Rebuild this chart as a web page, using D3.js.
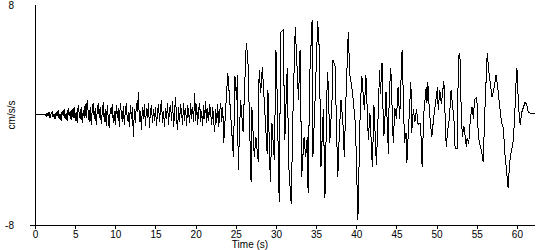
<!DOCTYPE html>
<html><head><meta charset="utf-8">
<script src="https://cdn.jsdelivr.net/npm/d3@7"></script>
<style>body{margin:0;background:#fff}svg{display:block}text{font-family:"Liberation Sans",Arial,sans-serif}</style>
</head><body><svg id="c" width="550" height="250"></svg>
<script>
// Early low-amplitude noise, sampled every 0.125 s starting at 1.25 s
const earlyStart = 1.25, earlyStep = 0.125;
const earlyValues = [
 0.05,-0.1,0.15,-0.05,0.2,-0.2,0.1,0.25,-0.15,0.1,
 -0.3,0.2,-0.1,0.35,-0.25,0.1,-0.4,0.3,-0.05,0.4,
 -0.3,0.15,-0.45,0.5,-0.1,0.3,-0.35,0.45,-0.2,0.6,
 -0.4,0.2,-0.55,0.7,0.1,-0.3,0.55,-0.6,0.35,-0.2,
 0.8,-0.25,1.1,0.2,-0.5,0.6,-0.7,0.4,0.9,-0.3,
 0.5,-0.75,0.3,0.85,-0.2,0.6,-0.65,0.2,0.95,-0.5,
 0.4,-0.8,0.7,-0.3,-0.95,0.5,0.1,0.8,-0.6,0.3,
 -0.7,0.75,-0.2,0.5,-0.85,0.9,0.1,-0.5,0.65,-0.75,
 0.35,0.85,-0.4,0.2,-0.9,0.7,-0.3,0.55,-1.6,0.4,
 -0.6,0.9,0.2,1.7,-0.5,0.3,-1.1,0.6,-0.3,0.8,
 -0.8,0.5,-0.2,0.9,-0.95,0.3,0.7,-0.6,0.4,-0.4,
 0.6,-0.8,0.2,0.8,-0.5,0.5,1.1,-0.6,0.3,-0.9,
 0.5,-0.3,0.9,-0.7,0.4,0.7,-0.4,1.0,-0.9,0.2,
 1.3,-0.3,-1.1,0.6,-0.5,0.8,0.1,-0.7,0.9,-0.4,
 0.5,-0.8,0.7,0.2,-0.6,0.9,-0.3,0.6,-0.5,1.6,
 -0.4,0.8,-0.7,0.4,0.9,-0.5,0.3,-0.8,0.7,-0.3,
 1.0,-0.6,0.5,-0.4,0.8,0.1,-0.7,0.6,-0.5,-1.2,
 0.4,-0.6,0.8,-0.9,0.3,0.9,-0.5,0.6
];
// Strong-motion part: times (s) and accelerations (cm/s/s)
const strongTimes = [
 23.5,24.0,24.3,24.7,24.9,25.1,25.2,25.3,25.6,25.9,26.3,26.5,26.9,27.0,27.3,27.5,27.8,27.9,28.1,28.3,
 28.6,28.9,29.0,29.3,29.5,29.8,30.0,30.1,30.4,30.6,30.9,31.1,31.4,31.6,31.9,32.1,32.4,32.6,32.8,33.0,
 33.1,33.2,33.5,33.7,33.9,34.0,34.2,34.5,34.6,34.9,35.2,35.4,35.6,35.9,36.1,36.4,36.5,36.7,37.0,37.1,
 37.4,37.5,37.7,37.9,38.1,38.4,38.5,38.7,39.0,39.2,39.5,39.9,40.2,40.5,40.7,41.0,41.2,41.5,41.7,42.0,
 42.2,42.5,42.7,42.9,43.0,43.2,43.4,43.5,43.7,44.0,44.1,44.3,44.6,44.8,45.0,45.2,45.4,45.7,45.8,46.0,
 46.2,46.3,46.5,46.8,46.9,47.1,47.3,47.5,47.7,48.0,48.2,48.4,48.7,48.8,48.9,49.1,49.4,49.6,50.1,50.2,
 50.4,50.6,50.9,51.1,51.2,51.4,51.6,51.8,52.2,52.3,52.6,52.7,52.9,53.0,53.2,53.4,53.7,53.8,54.0,54.2,
 54.4,54.6,54.7,55.0,55.2,55.4,55.6,55.8,56.0,56.3,56.5,56.6,56.9,57.1,57.4,57.6,57.8,58.1,58.3,58.5,
 58.7,58.9,59.1,59.3,59.5,59.7,59.9,60.0,60.2,60.4,60.6,61.0,61.2,61.4,61.8,62.25
];
const strongValues = [
 -2.0,3.05,0.6,-3.05,2.8,1.1,2.9,-4.0,1.1,-1.2,5.2,4.2,-4.9,0.6,-3.05,-1.6,-3.4,3.3,1.6,3.5,
 0.4,-2.8,1.8,-4.9,-0.6,-3.3,4.7,2.8,-6.3,6.0,6.2,-1.8,3.4,-3.8,-6.5,-0.15,6.4,3.8,1.1,4.7,
 0.4,-4.5,-1.6,-3.05,-1.6,-5.7,2.8,6.9,-3.05,1.6,6.8,4.7,-3.8,0.4,-6.0,3.1,2.3,-2.0,1.3,4.0,
 3.5,-0.15,-4.5,-1.1,1.1,-1.1,-3.05,0.9,6.0,2.9,1.8,-0.7,-7.6,0.6,2.8,0.4,2.9,-1.8,0.15,-3.8,
 0.7,-3.6,-0.4,3.3,1.5,3.8,-1.5,-1.2,1.7,-2.8,1.5,3.4,-2.0,0.5,-0.3,2.0,-0.3,4.7,2.6,-2.0,
 -1.3,-3.5,-1.0,2.4,-1.3,0.4,-0.5,0.4,-0.7,-0.6,-3.8,0.1,2.0,0.9,2.4,0.3,-1.6,-0.4,2.0,0.4,
 1.8,0.8,2.5,-0.7,-2.3,-1.0,-0.2,1.8,-0.6,-2.4,-2.4,4.2,4.5,1.6,-1.6,-0.8,-2.3,-1.7,-2.1,-0.3,
 0.6,-0.3,1.1,1.3,-1.6,-2.2,-2.6,-3.4,0.2,4.5,3.2,2.7,1.3,1.8,2.9,2.1,0.9,-0.6,-0.9,-2.8,
 -4.0,-5.3,-3.4,-2.6,-2.1,-0.4,2.5,3.4,0.6,-0.7,0.2,0.9,0.8,0.2,0.1,0.1
];
const xTicks = [0,5,10,15,20,25,30,35,40,45,50,55,60];
const yTickLabels = [-8, 8];
const xLabel = "Time (s)", yLabel = "cm/s/s";

const data = [{t:0,v:0}]
  .concat(earlyValues.map((v,i)=>({t:earlyStart+i*earlyStep, v})))
  .concat(strongTimes.map((t,i)=>({t, v:strongValues[i]})));

const svg = d3.select("#c");
const x = d3.scaleLinear().domain([0,62.25]).range([35,535]);
const y = d3.scaleLinear().domain([-8,8]).range([225,5]);
const fmt = d => String(d);

// x axis
const gx = svg.append("g").attr("transform","translate(0,225)")
  .call(d3.axisBottom(x).tickValues(xTicks).tickSize(4).tickPadding(2).tickFormat(fmt));
gx.select(".domain").remove();
gx.selectAll("line").attr("stroke","#000").attr("shape-rendering","crispEdges");
gx.selectAll("text").attr("font-size","10px").attr("fill","#000").attr("font-family","'Liberation Sans',Arial,sans-serif");
svg.append("line").attr("x1",30).attr("x2",535).attr("y1",225.5).attr("y2",225.5).attr("stroke","#000");

// y axis
const gy = svg.append("g").attr("transform","translate(35,0)")
  .call(d3.axisLeft(y).tickValues(yTickLabels).tickSize(0).tickPadding(21).tickFormat(fmt));
gy.select(".domain").remove();
gy.selectAll("text").attr("font-size","10px").attr("fill","#000").attr("font-family","'Liberation Sans',Arial,sans-serif");
svg.append("line").attr("x1",35.5).attr("x2",35.5).attr("y1",5).attr("y2",225).attr("stroke","#000");

svg.append("text").attr("x",250).attr("y",248).attr("text-anchor","middle").attr("font-size","10px").text(xLabel);
svg.append("text").attr("transform","translate(15,115) rotate(-90)").attr("text-anchor","middle").attr("font-size","10px").text(yLabel);

svg.append("path").datum(data)
  .attr("fill","none").attr("stroke","#000").attr("stroke-width",1)
  .attr("shape-rendering","crispEdges")
  .attr("d", d3.line().x(d=>x(d.t)).y(d=>y(d.v)));
</script></body></html>
